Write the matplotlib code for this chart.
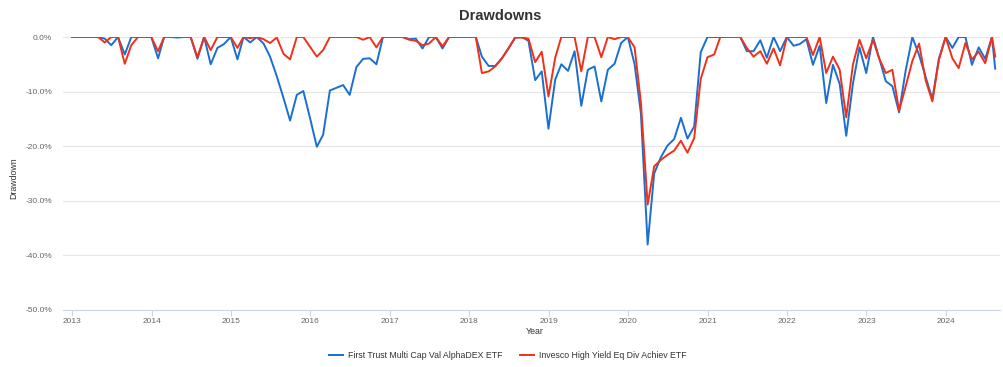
import numpy as np
import pandas as pd
import matplotlib
matplotlib.use("Agg")
import matplotlib.pyplot as plt
import matplotlib.dates as mdates
from matplotlib.ticker import FuncFormatter, MultipleLocator

plt.rcParams['font.family'] = ['Liberation Sans', 'DejaVu Sans']

series_names = ["First Trust Multi Cap Val AlphaDEX ETF",
                "Invesco High Yield Eq Div Achiev ETF"]

dates = list(pd.date_range("2012-12-31", "2024-07-31", freq="ME")) + [pd.Timestamp("2024-08-15")]

first_trust = [
    0, 0, 0, 0, 0, -0.3, -1.5, 0, -3.2, 0,
    0, 0, 0, -3.9, 0, 0, -0.1, 0, 0, -4.0,
    0, -5.0, -2.0, -1.3, 0, -4.1, 0, -1.0, 0, -1.2,
    -3.6, -7.2, -11.2, -15.3, -10.6, -9.9, -14.9, -20.1, -17.9, -9.8,
    -9.3, -8.8, -10.6, -5.5, -4.0, -3.9, -5.0, 0, 0, 0,
    0, -0.4, -0.3, -2.1, 0, 0, -2.1, 0, 0, 0,
    0, 0, -3.6, -5.3, -5.3, -3.9, -2.1, -0.1, 0, -0.7,
    -7.9, -6.3, -16.8, -7.8, -5.0, -6.2, -2.6, -12.6, -6.0, -5.4,
    -11.8, -6.0, -4.9, -1.1, 0, -5.0, -14.0, -38.0, -25.0, -22.0,
    -19.9, -18.7, -14.8, -18.6, -16.4, -2.8, 0, 0, 0, 0,
    0, 0, -2.6, -2.6, -0.6, -3.8, 0, -2.6, 0, -1.6,
    -1.3, -0.4, -5.1, -1.6, -12.1, -5.1, -8.6, -18.1, -8.5, -1.9,
    -6.6, 0, -3.8, -8.1, -9.0, -13.8, -6.2, 0, -3.3, -7.3,
    -11.4, -4.0, 0, -2.0, 0, 0, -5.1, -1.9, -4.0, 0,
    -5.8,
]

invesco = [
    0, 0, 0, 0, 0, -1.0, 0, 0, -4.9, -1.5,
    0, 0, 0, -2.6, 0, 0, 0, 0, 0, -3.7,
    0, -2.4, 0, 0, 0, -2.0, 0, -0.2, 0, -0.4,
    -1.1, -0.1, -3.1, -4.1, 0, 0, -1.8, -3.6, -2.4, 0,
    0, 0, 0, 0, -0.5, 0, -1.9, 0, 0, 0,
    0, -0.5, -0.7, -1.5, -1.2, 0, -1.7, 0, 0, 0,
    0, 0, -6.6, -6.3, -5.4, -3.9, -2.1, -0.1, -0.1, -0.3,
    -4.6, -2.7, -10.9, -3.8, 0, 0, 0, -6.3, 0, 0,
    -3.7, 0, -0.4, 0, 0, -1.9, -12.0, -30.7, -23.7, -22.5,
    -21.6, -20.8, -19.0, -21.2, -18.5, -7.7, -3.7, -3.2, 0, 0,
    0, 0, -2.0, -3.6, -2.6, -4.9, -2.1, -5.2, 0, 0,
    0, 0, -3.3, 0, -6.6, -3.6, -6.0, -14.7, -5.0, -0.5,
    -3.9, -0.5, -3.9, -6.6, -6.0, -13.5, -9.1, -4.4, -1.2, -7.9,
    -11.8, -4.2, 0, -3.9, -5.7, -1.1, -4.1, -2.7, -4.8, 0,
    -3.6,
]

colors = ["#1a6fd1", "#f2301a"]

fig = plt.figure(figsize=(10.04, 3.67), dpi=100)
ax = fig.add_axes([63/1004, 1-310/367, (1000-63)/1004, (310-37)/367])

ax.plot(dates, first_trust, color=colors[0], lw=1.4, label=series_names[0], zorder=3)
ax.plot(dates, invesco, color=colors[1], lw=1.4, label=series_names[1], zorder=4)

ax.set_ylim(-50, 0)
ax.set_xlim(pd.Timestamp("2012-11-20"), pd.Timestamp("2024-09-06"))
ax.yaxis.set_major_locator(MultipleLocator(10))
ax.yaxis.set_major_formatter(FuncFormatter(lambda v, p: f"{v:.1f}%"))
ax.xaxis.set_major_locator(mdates.YearLocator())
ax.xaxis.set_major_formatter(mdates.DateFormatter("%Y"))

ax.grid(axis='y', color='#e6e6e6', lw=0.8)
ax.set_axisbelow(True)
for s in ['top', 'right', 'left']:
    ax.spines[s].set_visible(False)
ax.spines['bottom'].set_color('#ccd6eb')
ax.spines['bottom'].set_linewidth(0.8)
ax.tick_params(axis='y', length=0, labelsize=6, labelcolor='#666666', pad=8)
ax.tick_params(axis='x', length=4, color='#ccd6eb', labelsize=6, labelcolor='#666666', pad=2)
for lbl in ax.get_xticklabels():
    lbl.set_horizontalalignment('center')

fig.text(500/1004, 1-16/367, "Drawdowns", ha='center', va='center', fontsize=10.5,
         fontweight='bold', color='#333333')
fig.text(14/1004, 1-178/367, "Drawdown", ha='center', va='center', rotation=90,
         fontsize=6.3, color='#333333')
fig.text(535/1004, 1-332/367, "Year", ha='center', va='center', fontsize=6.3, color='#333333')

fig.legend(loc='center', bbox_to_anchor=(508/1004, 1-356/367), ncol=2, frameon=False,
           fontsize=6.3, handlelength=1.6, columnspacing=2.0, handletextpad=0.6,
           labelcolor='#333333')

fig.savefig("out.png", dpi=100)
